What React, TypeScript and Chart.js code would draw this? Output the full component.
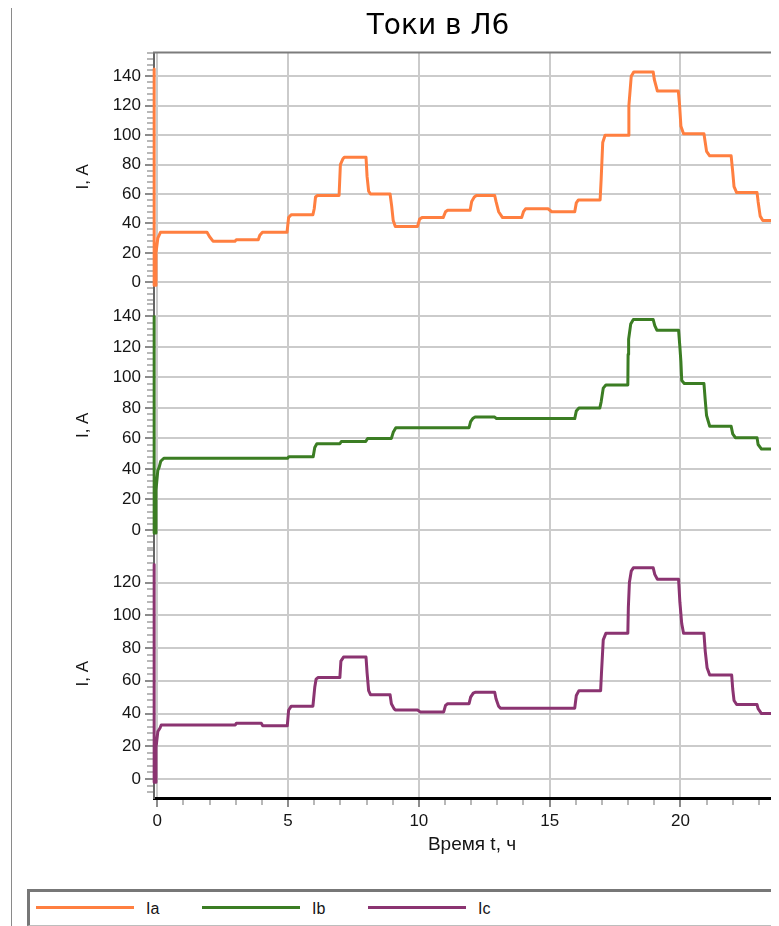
import React, { useEffect, useRef } from "react";
import { Chart, registerables } from "chart.js";

Chart.register(...registerables);

const FONT = "'Liberation Sans', Arial, Helvetica, sans-serif";
const TITLE_FONT = "'DejaVu Sans', 'Liberation Sans', Arial, sans-serif";

// Time axis (hours)
const hourTicks = [0, 5, 10, 15, 20];
const hourMin = -0.126;
const hourMax = 24.19;

// Current axes (amperes), one per phase panel
const currentTicksA = [0, 20, 40, 60, 80, 100, 120, 140];
const currentTicksB = [0, 20, 40, 60, 80, 100, 120, 140];
const currentTicksC = [0, 20, 40, 60, 80, 100, 120];
const currentMin = [-12.7, -12.9, -11.6];
const currentMax = [156.1, 150.1, 140.2];

const phaseNames = ["Ia", "Ib", "Ic"];
const phaseColors = ["#ff7f40", "#3b7d23", "#8b3471"];

// Phase A current: [t, ч ; I, A]
const phaseA: [number, number][] = [
  [-0.12, 145], [-0.12, -2], [-0.05, -2], [-0.05, 20], [0.02, 30], [0.12, 34],
  [1.9, 34], [2.0, 31], [2.13, 28],
  [2.97, 28], [3.02, 29],
  [3.86, 29], [3.92, 32], [4.02, 34],
  [4.96, 34], [5.02, 44], [5.12, 46],
  [5.95, 46], [6.0, 50], [6.05, 58], [6.12, 59],
  [6.95, 59], [7.0, 80], [7.1, 84], [7.15, 85],
  [7.98, 85], [8.02, 72], [8.08, 62], [8.15, 60],
  [8.9, 60], [8.96, 52], [9.02, 42], [9.1, 38],
  [9.95, 38], [10.03, 43], [10.12, 44],
  [10.93, 44], [11.02, 48], [11.1, 49],
  [11.96, 49], [12.02, 55], [12.12, 58], [12.2, 59],
  [12.9, 59], [12.95, 55], [13.05, 48], [13.2, 44],
  [13.93, 44], [14.0, 48], [14.08, 50],
  [14.94, 50], [15.08, 48],
  [15.96, 48], [16.02, 54], [16.1, 56],
  [16.93, 56], [16.97, 70], [17.03, 95], [17.12, 100],
  [18.0, 100], [18.03, 120], [18.12, 140], [18.22, 143],
  [18.96, 143], [19.0, 138], [19.12, 130],
  [19.92, 130], [19.97, 120], [20.02, 106], [20.12, 101],
  [20.9, 101], [20.95, 95], [21.0, 89], [21.12, 86],
  [21.94, 86], [22.0, 75], [22.05, 65], [22.15, 61],
  [22.93, 61], [22.97, 55], [23.05, 45], [23.15, 42],
  [24.5, 42],
];

// Phase B current: [t, ч ; I, A]
const phaseB: [number, number][] = [
  [-0.12, 140], [-0.12, -2], [-0.05, -2], [-0.05, 26], [0.02, 39], [0.07, 41], [0.13, 45], [0.25, 47],
  [4.98, 47], [5.03, 48],
  [5.96, 48], [6.02, 54], [6.1, 56.5],
  [6.98, 56.5], [7.04, 58],
  [7.97, 58], [8.04, 60],
  [8.95, 60], [9.02, 64], [9.12, 67],
  [11.92, 67], [11.98, 71], [12.06, 73], [12.15, 74],
  [12.9, 74], [12.97, 73],
  [15.96, 73], [16.02, 78], [16.12, 80],
  [16.92, 80], [16.97, 84], [17.05, 93], [17.15, 95],
  [17.99, 95], [18.0, 115], [18.02, 125], [18.1, 135], [18.2, 138],
  [18.96, 138], [19.02, 134], [19.1, 131],
  [19.93, 131], [19.98, 120], [20.02, 110], [20.05, 98], [20.15, 96],
  [20.9, 96], [20.95, 85], [21.0, 75], [21.12, 68],
  [21.94, 68], [22.0, 63], [22.1, 60.5],
  [22.93, 60.5], [22.97, 56], [23.1, 53],
  [24.5, 53],
];

// Phase C current: [t, ч ; I, A]
const phaseC: [number, number][] = [
  [-0.12, 131], [-0.12, -2], [-0.05, -2], [-0.05, 19], [0.02, 29], [0.1, 31], [0.15, 33],
  [2.98, 33], [3.02, 34],
  [3.98, 34], [4.03, 32.5],
  [4.97, 32.5], [5.02, 42], [5.12, 44.5],
  [5.95, 44.5], [6.02, 56], [6.07, 61], [6.15, 62],
  [6.98, 62], [7.02, 72], [7.12, 74.5],
  [7.98, 74.5], [8.02, 65], [8.08, 54], [8.15, 51.5],
  [8.9, 51.5], [8.95, 46], [9.05, 43], [9.1, 42.2],
  [9.95, 42.2], [10.05, 41],
  [10.95, 41], [11.02, 45], [11.1, 46],
  [11.92, 46], [11.98, 50], [12.08, 52.5], [12.15, 53],
  [12.9, 53], [12.95, 49], [13.05, 44.5], [13.12, 43.3],
  [15.96, 43.3], [16.02, 51], [16.12, 54],
  [16.95, 54], [16.98, 64], [17.05, 85], [17.15, 89],
  [17.99, 89], [18.01, 105], [18.05, 120], [18.12, 127], [18.2, 129],
  [18.96, 129], [19.02, 125], [19.12, 122],
  [19.93, 122], [19.98, 108], [20.05, 95], [20.12, 89],
  [20.9, 89], [20.95, 78], [21.02, 68], [21.12, 63.5],
  [21.96, 63.5], [22.0, 55], [22.05, 48], [22.15, 45.5],
  [22.93, 45.5], [22.97, 43], [23.1, 40],
  [24.5, 40],
];

const phaseData = [phaseA, phaseB, phaseC];
const axisIds = ["yA", "yB", "yC"];
const tickSets = [currentTicksA, currentTicksB, currentTicksC];

// Frame line on top of the plot and the minor tick marks of every axis
const framePlugin = {
  id: "plotFrame",
  beforeDatasetsDraw(chart: any) {
    const { ctx, chartArea } = chart;
    ctx.save();
    ctx.strokeStyle = "#7c7c7c";
    ctx.lineWidth = 2;
    ctx.beginPath();
    ctx.moveTo(chartArea.left - 1, chartArea.top);
    ctx.lineTo(chartArea.right, chartArea.top);
    ctx.stroke();

    ctx.strokeStyle = "#b8b8b8";
    ctx.lineWidth = 2;
    ctx.beginPath();
    axisIds.forEach((id, i) => {
      const s = chart.scales[id];
      const majors = tickSets[i];
      for (let v = Math.ceil(s.min / 4) * 4; v <= s.max; v += 4) {
        if (majors.includes(v)) continue;
        const y = Math.round(s.getPixelForValue(v));
        ctx.moveTo(s.right - 7, y);
        ctx.lineTo(s.right - 1, y);
      }
    });
    const xs = chart.scales.x;
    for (let h = 1; h <= xs.max; h++) {
      if (hourTicks.includes(h)) continue;
      const x = Math.round(xs.getPixelForValue(h));
      ctx.moveTo(x, xs.top + 2);
      ctx.lineTo(x, xs.top + 7);
    }
    ctx.stroke();
    ctx.restore();
  },
};

function currentAxis(i: number) {
  return {
    type: "linear",
    position: "left",
    stack: "phases",
    stackWeight: 1,
    weight: 3 - i,
    min: currentMin[i],
    max: currentMax[i],
    afterBuildTicks: (s: any) => {
      s.ticks = tickSets[i].map((v) => ({ value: v }));
    },
    afterFit: (s: any) => {
      s.width = 143;
    },
    grid: {
      color: "#cbcbcb",
      lineWidth: 2,
      drawTicks: true,
      tickLength: 9,
      tickColor: "#8c8c8c",
      tickWidth: 2,
    },
    border: { display: true, color: "#666666", width: 2 },
    ticks: {
      color: "#151515",
      font: { family: FONT, size: 17 },
      padding: 4,
      autoSkip: false,
    },
    title: {
      display: true,
      text: "I, A",
      color: "#151515",
      font: { family: FONT, size: 17 },
      padding: { top: 62, bottom: 0 },
    },
  };
}

export default function App() {
  const canvasRef = useRef<HTMLCanvasElement | null>(null);

  useEffect(() => {
    document.documentElement.style.overflow = "hidden";
    const canvas = canvasRef.current;
    if (!canvas) return;
    const chart = new Chart(canvas, {
      type: "line",
      data: {
        datasets: phaseData.map((pts, i) => ({
          label: phaseNames[i],
          data: pts.map(([t, v]) => ({ x: t, y: v })),
          yAxisID: axisIds[i],
          borderColor: phaseColors[i],
          backgroundColor: phaseColors[i],
          borderWidth: 3,
          pointRadius: 0,
          tension: 0,
          borderJoinStyle: "round",
          clip: { left: 8, top: 0, right: 0, bottom: 0 },
        })),
      },
      options: {
        animation: false,
        responsive: false,
        events: [],
        layout: { padding: 0 },
        plugins: {
          legend: { display: false },
          tooltip: { enabled: false },
          title: {
            display: true,
            text: "Токи в Л6",
            color: "#000000",
            font: { family: TITLE_FONT, size: 28, weight: "normal" },
            padding: { top: 2, bottom: 9 },
          },
        },
        scales: {
          x: {
            type: "linear",
            min: hourMin,
            max: hourMax,
            afterBuildTicks: (s: any) => {
              s.ticks = hourTicks.map((v) => ({ value: v }));
            },
            afterFit: (s: any) => {
              s.height = 70;
            },
            grid: {
              color: "#cbcbcb",
              lineWidth: 2,
              drawTicks: true,
              tickLength: 9,
              tickColor: "#8c8c8c",
              tickWidth: 2,
            },
            border: { display: true, color: "#000000", width: 3 },
            ticks: {
              color: "#151515",
              font: { family: FONT, size: 17 },
              padding: 4,
              maxRotation: 0,
              autoSkip: false,
            },
            title: {
              display: true,
              text: "Время t, ч",
              color: "#151515",
              font: { family: FONT, size: 19 },
              padding: { top: 0, bottom: 12 },
            },
          },
          yA: currentAxis(0),
          yB: currentAxis(1),
          yC: currentAxis(2),
          // empty margin to the right of the plot
          rightMargin: {
            type: "linear",
            position: "right",
            afterFit: (s: any) => {
              s.width = 75;
            },
            grid: { display: false, drawTicks: false },
            border: { display: false },
            ticks: { display: false },
          },
        } as any,
      },
      plugins: [framePlugin],
    } as any);
    return () => chart.destroy();
  }, []);

  return (
    <div style={{ position: "relative", width: 771, height: 918, overflow: "hidden", background: "#ffffff" }}>
      <canvas
        ref={canvasRef}
        width={854}
        height={860}
        style={{ position: "absolute", left: 3, top: 0, width: 854, height: 860 }}
      />
      <div style={{ position: "absolute", left: 3, top: 0, width: 1, height: 918, background: "#8a8a8a" }} />
      <div
        style={{
          position: "absolute",
          left: 19,
          top: 881,
          width: 820,
          height: 33,
          borderTop: "3px solid #777777",
          borderLeft: "3px solid #777777",
          borderBottom: "1px solid #bdbdbd",
          background: "#ffffff",
          fontFamily: FONT,
          fontSize: 16,
          color: "#151515",
        }}
      >
        {phaseNames.map((name, i) => (
          <React.Fragment key={name}>
            <div
              style={{
                position: "absolute",
                left: 6 + i * 166,
                top: 14,
                width: 98,
                height: 3,
                background: phaseColors[i],
              }}
            />
            <div style={{ position: "absolute", left: 116 + i * 166, top: 7, lineHeight: "19px" }}>{name}</div>
          </React.Fragment>
        ))}
      </div>
    </div>
  );
}
